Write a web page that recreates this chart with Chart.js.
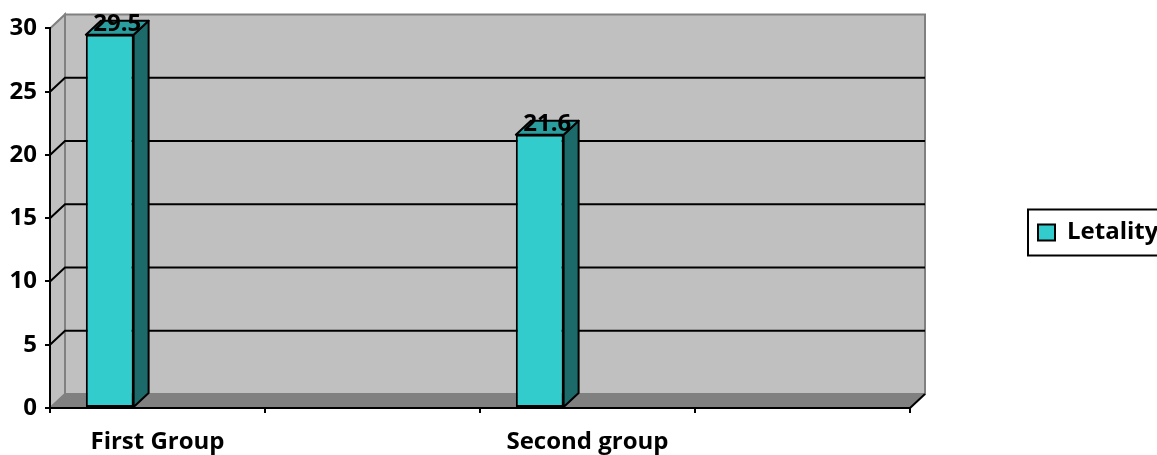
<!DOCTYPE html>
<html>
<head>
<meta charset="utf-8">
<script src="https://cdn.jsdelivr.net/npm/chart.js@4"></script>
<style>
  html, body { margin: 0; padding: 0; background: #fff; }
  canvas { display: block; }
</style>
</head>
<body>
<canvas id="grafico" width="1157" height="455"></canvas>
<script>
// Data (Excel 3D column chart, 3 series slots, only one filled)
const categories = ['First Group', '', 'Second group', ''];
const letality = [29.5, null, 21.6, null];
const series2 = [null, null, null, null];
const series3 = [null, null, null, null];
const yTicks = [0, 5, 10, 15, 20, 25, 30];

// 3D depth of the walls and bars
const DX = 15;
const DY = -14;
const FONT = 'bold 24px "Open Sans"';

Chart.defaults.font.family = '"Open Sans", sans-serif';
Chart.defaults.font.size = 24;
Chart.defaults.font.weight = 'bold';
Chart.defaults.color = '#000';

// legend text width, so the plot ends where the reference one does
const measure = document.createElement('canvas').getContext('2d');
measure.font = FONT;
const legendTextW = measure.measureText('Letality').width;

function poly(ctx, pts, fill, stroke) {
    ctx.beginPath();
    pts.forEach(([px, py], k) => k ? ctx.lineTo(px, py) : ctx.moveTo(px, py));
    ctx.closePath();
    if (fill) { ctx.fillStyle = fill; ctx.fill(); }
    if (stroke) { ctx.strokeStyle = stroke; ctx.stroke(); }
}

// walls, floor and back gridlines (drawn before the axes)
const walls = {
    id: 'walls',
    beforeDraw(chart) {
        const { ctx, chartArea: a, scales: { y } } = chart;
        ctx.save();
        ctx.lineWidth = 2;
        poly(ctx, [[a.left + DX, a.top + DY], [a.right + DX, a.top + DY], [a.right + DX, a.bottom + DY], [a.left + DX, a.bottom + DY]], '#C0C0C0', '#808080');
        poly(ctx, [[a.left, a.top], [a.left + DX, a.top + DY], [a.left + DX, a.bottom + DY], [a.left, a.bottom]], '#C0C0C0', '#808080');
        poly(ctx, [[a.left, a.bottom], [a.right, a.bottom], [a.right + DX, a.bottom + DY], [a.left + DX, a.bottom + DY]], '#808080');

        ctx.strokeStyle = '#000';
        y.ticks.forEach(t => {
            if (t.value <= y.min || t.value >= y.max) return;
            const py = y.getPixelForValue(t.value);
            ctx.beginPath();
            ctx.moveTo(a.left, py);
            ctx.lineTo(a.left + DX, py + DY);
            ctx.lineTo(a.right + DX, py + DY);
            ctx.stroke();
        });
        ctx.beginPath();
        ctx.moveTo(a.right, a.bottom);
        ctx.lineTo(a.right + DX, a.bottom + DY);
        ctx.stroke();
        ctx.restore();
    }
};

// side + top faces of the bars, value labels, legend frame
const faces = {
    id: 'faces',
    afterDatasetsDraw(chart) {
        const ctx = chart.ctx;
        const values = chart.data.datasets[0].data;
        ctx.save();
        ctx.lineWidth = 2;
        ctx.lineJoin = 'round';
        chart.getDatasetMeta(0).data.forEach((bar, i) => {
            if (values[i] == null) return;
            const { x, y, base, width } = bar.getProps(['x', 'y', 'base', 'width'], true);
            const l = x - width / 2, r = x + width / 2;
            poly(ctx, [[r, y], [r + DX, y + DY], [r + DX, base + DY], [r, base]], '#1C6A6A', '#000');
            poly(ctx, [[l, y], [l + DX, y + DY], [r + DX, y + DY], [r, y]], '#2A9E9E', '#000');
            ctx.fillStyle = '#000';
            ctx.font = FONT;
            ctx.textAlign = 'center';
            ctx.textBaseline = 'alphabetic';
            ctx.fillText(values[i].toFixed(1), x + DX / 2, y - 4);
        });
        ctx.restore();
    },
    afterDraw(chart) {
        const hb = chart.legend.legendHitBoxes[0];
        if (!hb) return;
        const ctx = chart.ctx;
        const cy = hb.top + hb.height / 2;
        ctx.save();
        ctx.lineWidth = 2;
        ctx.strokeStyle = '#000';
        ctx.strokeRect(hb.left - 10, cy - 23, chart.width, 46);
        ctx.restore();
    }
};

new Chart(document.getElementById('grafico'), {
    type: 'bar',
    data: {
        labels: categories,
        datasets: [
            { label: 'Letality', data: letality, backgroundColor: '#33CCCC', borderColor: '#000', borderWidth: 2, borderSkipped: false },
            { label: 'Series2', data: series2 },
            { label: 'Series3', data: series3 }
        ]
    },
    options: {
        responsive: false,
        animation: false,
        events: [],
        datasets: { bar: { categoryPercentage: 3 / 4.5, barPercentage: 1 } },
        layout: { padding: { top: 10, bottom: 0, left: 0, right: 80 - legendTextW } },
        scales: {
            x: {
                grid: { drawOnChartArea: false, color: '#000', lineWidth: 2, tickLength: 5 },
                border: { color: '#000', width: 2 },
                ticks: { padding: 15, maxRotation: 0, autoSkip: false },
                afterFit: s => { s.height = 47; }
            },
            y: {
                min: yTicks[0],
                max: yTicks[yTicks.length - 1],
                ticks: { stepSize: yTicks[1] - yTicks[0], padding: 8 },
                grid: { drawOnChartArea: false, color: '#000', lineWidth: 2, tickLength: 5 },
                border: { color: '#000', width: 2 },
                afterFit: s => { s.width = 50; }
            }
        },
        plugins: {
            // blank spacer above the plot only (legend keeps the full height)
            title: { display: true, text: ' ', fullSize: false, padding: { top: 0, bottom: 4 }, font: { size: 12 } },
            legend: {
                position: 'right',
                labels: { padding: 128, boxWidth: 17, boxHeight: 16, filter: item => item.datasetIndex === 0 }
            },
            tooltip: { enabled: false }
        }
    },
    plugins: [walls, faces]
});
</script>
</body>
</html>
